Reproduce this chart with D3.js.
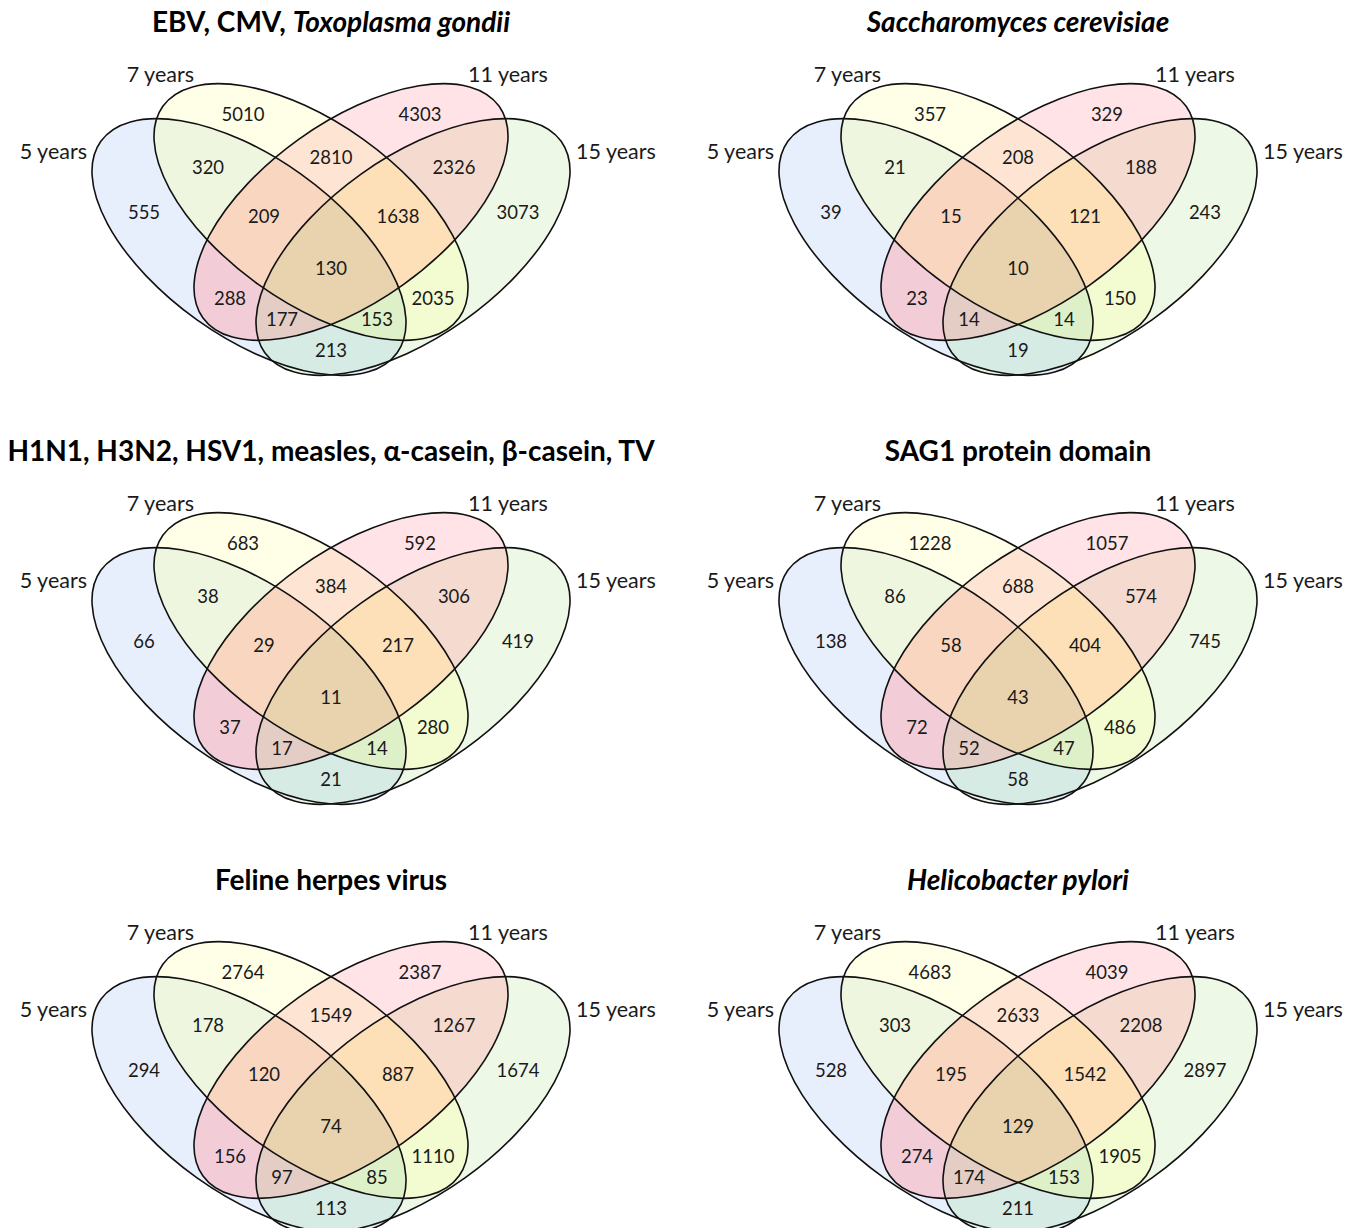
<!DOCTYPE html>
<html>
<head>
<meta charset="utf-8">
<script src="https://cdn.jsdelivr.net/npm/d3@7"></script>
<style>
  body { margin: 0; background: #fff; }
  svg { display: block; font-family: Lato, "Open Sans", sans-serif; }
</style>
</head>
<body>
<svg id="chart" width="1356" height="1228"></svg>
<script>
// Six 4-set Venn diagrams (5 / 7 / 11 / 15 years).
const setNames = ["5 years", "7 years", "11 years", "15 years"];
// A = 5 years, B = 7 years, C = 11 years, D = 15 years
const regionKeys = ["A", "B", "C", "D", "AB", "AC", "AD", "BC", "BD", "CD", "ABC", "ABD", "ACD", "BCD", "ABCD"];

const titles = [
  [{ t: "EBV, CMV, " }, { t: "Toxoplasma gondii", i: true }],
  [{ t: "Saccharomyces cerevisiae", i: true }],
  [{ t: "H1N1, H3N2, HSV1, measles, α-casein, β-casein, TV" }],
  [{ t: "SAG1 protein domain" }],
  [{ t: "Feline herpes virus" }],
  [{ t: "Helicobacter pylori", i: true }],
];

// counts in regionKeys order
const countsEBV     = [555, 5010, 4303, 3073, 320, 288, 213, 2810, 2035, 2326, 209, 153, 177, 1638, 130];
const countsYeast   = [39, 357, 329, 243, 21, 23, 19, 208, 150, 188, 15, 14, 14, 121, 10];
const countsH1N1    = [66, 683, 592, 419, 38, 37, 21, 384, 280, 306, 29, 14, 17, 217, 11];
const countsSAG1    = [138, 1228, 1057, 745, 86, 72, 58, 688, 486, 574, 58, 47, 52, 404, 43];
const countsFeline  = [294, 2764, 2387, 1674, 178, 156, 113, 1549, 1110, 1267, 120, 85, 97, 887, 74];
const countsPylori  = [528, 4683, 4039, 2897, 303, 274, 211, 2633, 1905, 2208, 195, 153, 174, 1542, 129];
const panelCounts = [countsEBV, countsYeast, countsH1N1, countsSAG1, countsFeline, countsPylori];

// layout (unit coordinates, 1 unit = 100px)
const ellipses = [
  { cx: -0.82, cy: 0.17, rot: 35.5 },
  { cx: -0.20, cy: -0.18, rot: 35.5 },
  { cx: 0.20, cy: -0.18, rot: -35.5 },
  { cx: 0.82, cy: 0.17, rot: -35.5 },
];
const RX = 1.82, RY = 0.895;

const labelPos = {
  A: [-1.87, -0.18], B: [-0.88, -1.16], C: [0.89, -1.16], D: [1.87, -0.18],
  AB: [-1.23, -0.63], AC: [-1.01, 0.68], AD: [0, 1.20], BC: [0, -0.73],
  BD: [1.02, 0.68], CD: [1.23, -0.63], ABC: [-0.67, -0.14], ABD: [0.46, 0.89],
  ACD: [-0.49, 0.89], BCD: [0.67, -0.14], ABCD: [0, 0.38],
};
const setLabelPos = [
  { x: -2.44, y: -0.79, anchor: "end" },
  { x: -1.37, y: -1.56, anchor: "end" },
  { x: 1.37, y: -1.56, anchor: "start" },
  { x: 2.45, y: -0.79, anchor: "start" },
];

const regionColor = {
  A: "#e8effc", B: "#fffee6", C: "#ffe3e6", D: "#edf8e7",
  AB: "#eef6df", AC: "#f2cdd8", AD: "#d5ebe3", BC: "#fee5d3", BD: "#f3fbd0", CD: "#f4dacf",
  ABC: "#f9d6c0", ABD: "#ddf0c8", ACD: "#e4cdc5", BCD: "#fde0b7", ABCD: "#e8d3ae",
};

const u = d3.scaleLinear().domain([0, 1]).range([0, 100]);
const colX = d3.scaleLinear().domain([0, 1]).range([331, 1018]);
const rowY = d3.scaleLinear().domain([0, 2]).range([230, 1088]);

const svg = d3.select("#chart");
svg.append("rect").attr("width", 1356).attr("height", 1228).attr("fill", "#fff");

const defs = svg.append("defs");
const ellipseAttrs = (sel) => sel
  .attr("cx", d => u(d.cx)).attr("cy", d => u(d.cy))
  .attr("rx", u(RX)).attr("ry", u(RY))
  .attr("transform", d => `rotate(${d.rot},${u(d.cx)},${u(d.cy)})`);

ellipses.forEach((e, i) => {
  defs.append("clipPath").attr("id", `clip-${i}`)
    .append("ellipse").datum(e).call(ellipseAttrs);
});

const letters = "ABCD";
regionKeys.forEach(k => {
  const m = defs.append("mask").attr("id", `mask-${k}`)
    .attr("maskUnits", "userSpaceOnUse")
    .attr("x", -340).attr("y", -240).attr("width", 680).attr("height", 480);
  m.append("rect").attr("x", -340).attr("y", -240).attr("width", 680).attr("height", 480).attr("fill", "#fff");
  ellipses.forEach((e, i) => {
    if (!k.includes(letters[i])) m.append("ellipse").datum(e).call(ellipseAttrs).attr("fill", "#000");
  });
});

panelCounts.forEach((counts, p) => {
  const col = p % 2, row = Math.floor(p / 2);
  const g = svg.append("g").attr("transform", `translate(${colX(col)},${rowY(row)})`);

  // region fills
  regionKeys.forEach(k => {
    let r = g.append("g").attr("mask", `url(#mask-${k})`);
    k.split("").forEach(ch => {
      r = r.append("g").attr("clip-path", `url(#clip-${letters.indexOf(ch)})`);
    });
    r.append("rect").attr("x", -340).attr("y", -240).attr("width", 680).attr("height", 480)
      .attr("fill", regionColor[k]);
  });

  // outlines
  g.selectAll("ellipse.outline").data(ellipses).join("ellipse")
    .attr("class", "outline").call(ellipseAttrs)
    .attr("fill", "none").attr("stroke", "#111").attr("stroke-width", 1.6);

  // counts
  g.selectAll("text.cnt").data(regionKeys).join("text")
    .attr("class", "cnt")
    .attr("x", k => u(labelPos[k][0])).attr("y", k => u(labelPos[k][1]))
    .attr("dy", "0.36em").attr("text-anchor", "middle")
    .attr("fill", "#1a1a1a").style("font-size", "18.5px")
    .text((k, i) => counts[i]);

  // set names
  g.selectAll("text.set").data(setNames).join("text")
    .attr("class", "set")
    .attr("x", (d, i) => u(setLabelPos[i].x)).attr("y", (d, i) => u(setLabelPos[i].y))
    .attr("dy", "0.36em").attr("text-anchor", (d, i) => setLabelPos[i].anchor)
    .attr("fill", "#1a1a1a").style("font-size", "21.5px")
    .text(d => d);

  // title
  const t = g.append("text").attr("x", 0).attr("y", u(-2.08)).attr("dy", "0.36em")
    .attr("text-anchor", "middle").attr("fill", "#000")
    .style("font-size", "28px").style("font-weight", 700);
  t.selectAll("tspan").data(titles[p]).join("tspan")
    .style("font-style", d => d.i ? "italic" : "normal")
    .text(d => d.t);
});
</script>
</body>
</html>
